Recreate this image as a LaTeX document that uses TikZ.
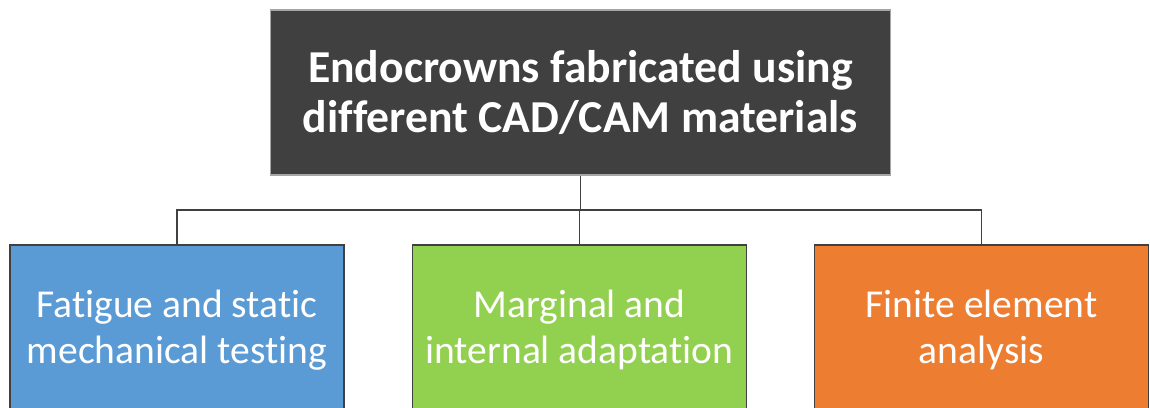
\documentclass[tikz,border=0pt]{standalone}
\usepackage{fontspec}
\setmainfont[Ligatures=NoCommon]{Carlito}
\definecolor{topgray}{HTML}{404040}
\definecolor{boxblue}{HTML}{5B9BD5}
\definecolor{boxgreen}{HTML}{92D050}
\definecolor{boxorange}{HTML}{ED7D31}
\begin{document}
\begin{tikzpicture}[x=0.02cm,y=-0.02cm,
  headbox/.style={draw=gray!70,line width=0.6pt,fill=topgray,text=white,align=center,
    minimum width=12.42cm,minimum height=3.3cm,inner sep=0pt,
    font=\fontsize{26}{29}\selectfont\bfseries},
  subbox/.style={draw=topgray,line width=0.7pt,text=white,align=center,
    minimum width=6.68cm,minimum height=3.4cm,inner sep=0pt,
    font=\fontsize{22.5}{26}\selectfont},
  link/.style={draw=topgray,line width=1pt}]
\useasboundingbox (0,0) rectangle (1150,407);

\node [headbox] at (580.5,92.5) (top) {Endocrowns fabricated using\\different CAD/CAM materials};

\node [subbox,fill=boxblue] at (177,330) (fat) {Fatigue and static\\mechanical testing};
\node [subbox,fill=boxgreen] at (579.5,330) (marg) {Marginal and\\internal adaptation};
\node [subbox,fill=boxorange] at (981.5,330) (fea) {Finite element\\analysis};

% tree connectors
\coordinate (split) at (top.south |- 0,210);
\draw [link] (top.south) -- (split);
\draw [link] (split) -| (fat.north);
\draw [link] (split) -| (fea.north);
\draw [link] (split) -| (marg.north);
\end{tikzpicture}
\end{document}
